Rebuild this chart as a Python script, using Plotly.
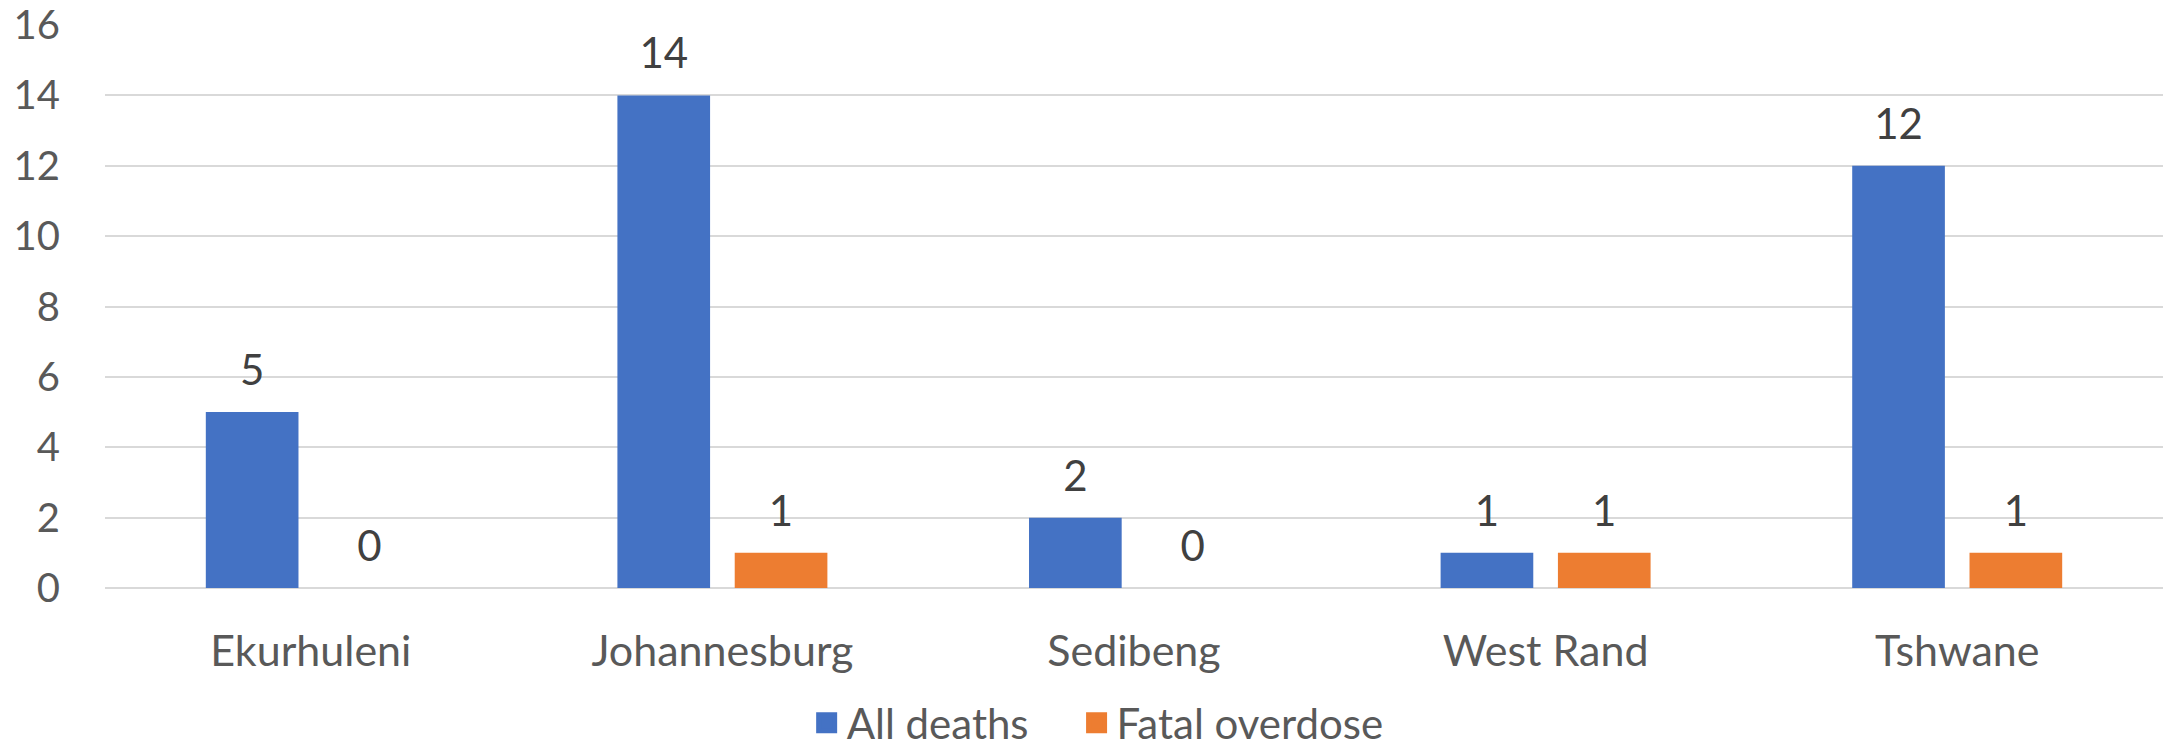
import plotly.graph_objects as go

districts = ['Ekurhuleni', 'Johannesburg', 'Sedibeng', 'West Rand', 'Tshwane']
all_deaths = [5, 14, 2, 1, 12]
fatal_overdose = [0, 1, 0, 1, 1]
y_ticks = [0, 2, 4, 6, 8, 10, 12, 14, 16]

font_name = 'Lato'
blue = '#4472C4'
orange = '#ED7D31'
pad = '\u00a0' * 4  # extra room between the two legend entries
series = [('All deaths' + pad, all_deaths, blue, 'a'), ('Fatal overdose', fatal_overdose, orange, 'b')]

fig = go.Figure()
for name, vals, col, grp in series:
    fig.add_trace(go.Bar(x=districts, y=vals, name=name.strip(), offsetgroup=grp, showlegend=False,
                         marker=dict(color=col, line=dict(width=0)), hoverinfo='x+y'))
for name, vals, col, grp in series:
    # value labels sitting above each bar
    fig.add_trace(go.Scatter(x=districts, y=vals, offsetgroup=grp, mode='markers+text',
                             text=vals, textposition='top center', cliponaxis=False,
                             marker=dict(size=25, color='rgba(0,0,0,0)'),
                             textfont=dict(color='#404040', size=42, family=font_name),
                             showlegend=False, hoverinfo='skip'))
for name, vals, col, grp in series:
    # legend entries with a bigger square swatch than the bar icon
    fig.add_trace(go.Scatter(x=[None], y=[None], mode='markers', name=name,
                             marker=dict(symbol='square', size=16, color=col,
                                         line=dict(width=5, color=col))))

fig.update_layout(
    width=2165, height=750,
    margin=dict(l=105, r=2, t=25, b=162),
    paper_bgcolor='white', plot_bgcolor='white',
    font=dict(family=font_name, color='#595959', size=40),
    bargap=0.43, bargroupgap=0.21,
    scattermode='group', scattergap=0.43,
    showlegend=True,
    legend=dict(orientation='h', xref='container', x=0.507, xanchor='center',
                yref='container', y=0.036, yanchor='middle',
                font=dict(size=42, color='#595959'), itemwidth=30),
)
fig.update_xaxes(showgrid=False, showline=False, ticks='', ticklabelstandoff=34,
                 automargin=False, tickfont=dict(size=43))
fig.update_yaxes(range=[0, 16], tickvals=y_ticks, showgrid=True, gridcolor='#D9D9D9',
                 gridwidth=2, zeroline=True, zerolinecolor='#D9D9D9', zerolinewidth=2,
                 showline=False, ticks='', ticklabelstandoff=44, automargin=False,
                 tickfont=dict(size=40))

fig.write_html('out.html', config={'displayModeBar': False},
               post_script="document.body.style.margin='0';")
